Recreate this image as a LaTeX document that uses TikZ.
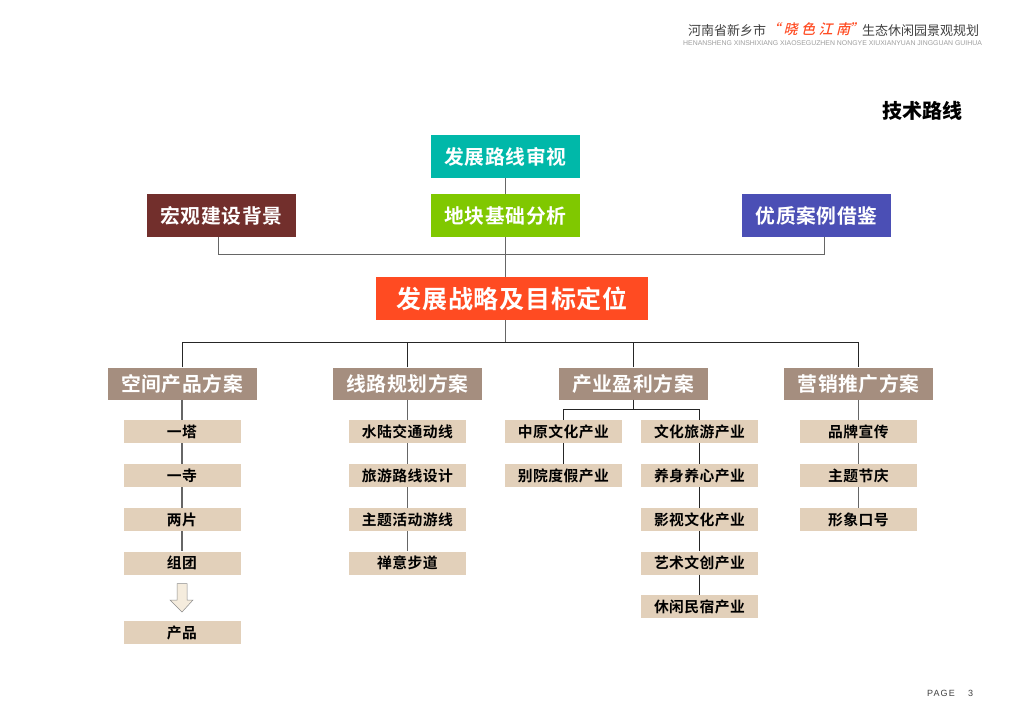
\documentclass[tikz,border=0pt]{standalone}
\usepackage{fontspec}
\setmainfont{Noto Sans CJK SC}[BoldFont={Noto Sans CJK SC Bold}]
\newfontfamily\hdfont{Noto Sans CJK SC}
\newfontfamily\cjkb{Noto Sans CJK SC Black}
\newfontfamily\cjkbs[LetterSpace=3]{Noto Sans CJK SC Bold}
\newfontfamily\cjkbo[LetterSpace=3]{Noto Sans CJK SC Bold}
\newfontfamily\callig[FakeSlant=0.25,LetterSpace=25]{Noto Sans CJK SC Medium}
\newfontfamily\latinf{Liberation Sans}
\newfontfamily\latinp[LetterSpace=12]{Liberation Sans}
\definecolor{cteal}{HTML}{00B8A9}
\definecolor{cgreen}{HTML}{80C800}
\definecolor{cbrown}{HTML}{722F2C}
\definecolor{cblue}{HTML}{4B4FB5}
\definecolor{corange}{HTML}{FF4B22}
\definecolor{ctaupe}{HTML}{A58E7F}
\definecolor{csand}{HTML}{E2D0BA}
\definecolor{carrow}{HTML}{F5ECDD}
\definecolor{cline}{HTML}{666666}
\tikzset{
  x=1pt,y=-1pt,
  topbox/.style={rectangle,inner sep=0pt,minimum width=149pt,minimum height=43pt,text=white,font=\cjkbs\fontsize{19.8}{24}\selectfont},
  mainbox/.style={rectangle,inner sep=0pt,minimum width=272pt,minimum height=43pt,fill=corange,text=white,font=\cjkbo\fontsize{25}{30}\selectfont},
  catbox/.style={rectangle,inner sep=0pt,minimum width=149pt,minimum height=32pt,fill=ctaupe,text=white,font=\cjkbs\fontsize{19.8}{24}\selectfont},
  subbox/.style={rectangle,inner sep=0pt,minimum width=117pt,minimum height=23pt,fill=csand,text=black,font=\cjkbs\fontsize{14.8}{18}\selectfont},
  conn/.style={draw=cline,line width=1.1pt},
  connk/.style={draw=black!85,line width=1pt},
  hdtext/.style={inner sep=0pt,anchor=west,text=black!75,font=\hdfont\fontsize{13}{16}\selectfont},
  caltext/.style={inner sep=0pt,text=corange,font=\callig\fontsize{14}{16}\selectfont,anchor=west},
}
\begin{document}
\begin{tikzpicture}
\useasboundingbox (0,0) rectangle (1024,724);
\fill[white] (0,0) rectangle (1024,724);
% header
\node[hdtext] (hA) at (688,30.5) {河南省新乡市};
\node[caltext] (hB) at (766,29) {“晓色江南};
\node[caltext] (hE) at (849,29) {”};
\node[hdtext] (hC) at (862,30.5) {生态休闲园景观规划};
\node[inner sep=0pt,anchor=west,text=black!38,font=\latinf\fontsize{6.9}{8}\selectfont] (hD) at (683,43.5) {HENANSHENG XINSHIXIANG XIAOSEGUZHEN NONGYE XIUXIANYUAN JINGGUAN GUIHUA};
\node[inner sep=0pt,anchor=center,font=\cjkb\fontsize{20}{24}\selectfont] (title) at (922,110.5) {技术路线};
% top
\node[topbox,fill=cteal] (review) at (505.5,156.5) {发展路线审视};
\node[topbox,fill=cgreen] (land) at (505.5,215.5) {地块基础分析};
\node[topbox,fill=cbrown] (macro) at (221.5,215.5) {宏观建设背景};
\node[topbox,fill=cblue] (cases) at (816.5,215.5) {优质案例借鉴};
\node[mainbox] (goal) at (512,298.5) {发展战略及目标定位};
\coordinate (busA) at (505.5,254.5);
\coordinate (busB) at (505.5,342);
% categories
\node[catbox] (c1) at (182,383.5) {空间产品方案};
\node[catbox] (c2) at (407.5,383.5) {线路规划方案};
\node[catbox] (c3) at (633,383.5) {产业盈利方案};
\node[catbox] (c4) at (858.5,383.5) {营销推广方案};
% column 1
\node[subbox] (a1) at (182,431.5) {一塔};
\node[subbox] (a2) at (182,475.5) {一寺};
\node[subbox] (a3) at (182,519.5) {两片};
\node[subbox] (a4) at (182,563) {组团};
\node[subbox] (a5) at (182,632.5) {产品};
% column 2
\node[subbox] (b1) at (407.5,431.5) {水陆交通动线};
\node[subbox] (b2) at (407.5,475.5) {旅游路线设计};
\node[subbox] (b3) at (407.5,519.5) {主题活动游线};
\node[subbox] (b4) at (407.5,563) {禅意步道};
% column 3
\node[subbox] (d1) at (563.5,431.5) {中原文化产业};
\node[subbox] (d2) at (563.5,475.5) {别院度假产业};
\node[subbox] (e1) at (699.5,431.5) {文化旅游产业};
\node[subbox] (e2) at (699.5,475.5) {养身养心产业};
\node[subbox] (e3) at (699.5,519.5) {影视文化产业};
\node[subbox] (e4) at (699.5,563) {艺术文创产业};
\node[subbox] (e5) at (699.5,606.5) {休闲民宿产业};
\coordinate (busC) at (633,409);
% column 4
\node[subbox] (f1) at (858.5,431.5) {品牌宣传};
\node[subbox] (f2) at (858.5,475.5) {主题节庆};
\node[subbox] (f3) at (858.5,519.5) {形象口号};
% connectors
\draw[conn] (review.south) -- (land.north);
\draw[conn] (land.south) -- (land.south |- goal.north);
\draw[conn] (macro.south -| 218.5,0) |- (busA) -| (cases.south -| 824.5,0);
\draw[conn] (busA |- goal.south) -- (busB);
\draw[connk] (c1.north) |- (busB) -| (c4.north);
\draw[connk] (c2.north) -- (c2.north |- busB);
\draw[connk] (c3.north) -- (c3.north |- busB);
\foreach \u/\v in {c1/a1,a1/a2,a2/a3,a3/a4,c2/b1,b1/b2,b2/b3,b3/b4,c4/f1,f1/f2,f2/f3}{
  \draw[conn] (\u.south) -- (\v.north);
}
\draw[connk] (c3.south) -- (busC);
\draw[connk] (d1.north) |- (busC) -| (e1.north);
\foreach \u/\v in {d1/d2,e1/e2,e2/e3,e3/e4,e4/e5}{
  \draw[connk] (\u.south) -- (\v.north);
}
% down arrow
\draw[fill=carrow,draw=black!45,line width=0.5pt] (177,583.5) -- (187,583.5) -- (187,600) -- (193,600) -- (182,612) -- (170,600) -- (177,600) -- cycle;
% page
\node[inner sep=0pt,anchor=west,text=black!75,font=\latinp\fontsize{9}{10}\selectfont] (page) at (927,693.5) {PAGE};
\node[inner sep=0pt,anchor=west,text=black!75,font=\latinf\fontsize{9}{10}\selectfont] (pnum) at (968,693.5) {3};
\end{tikzpicture}
\end{document}
